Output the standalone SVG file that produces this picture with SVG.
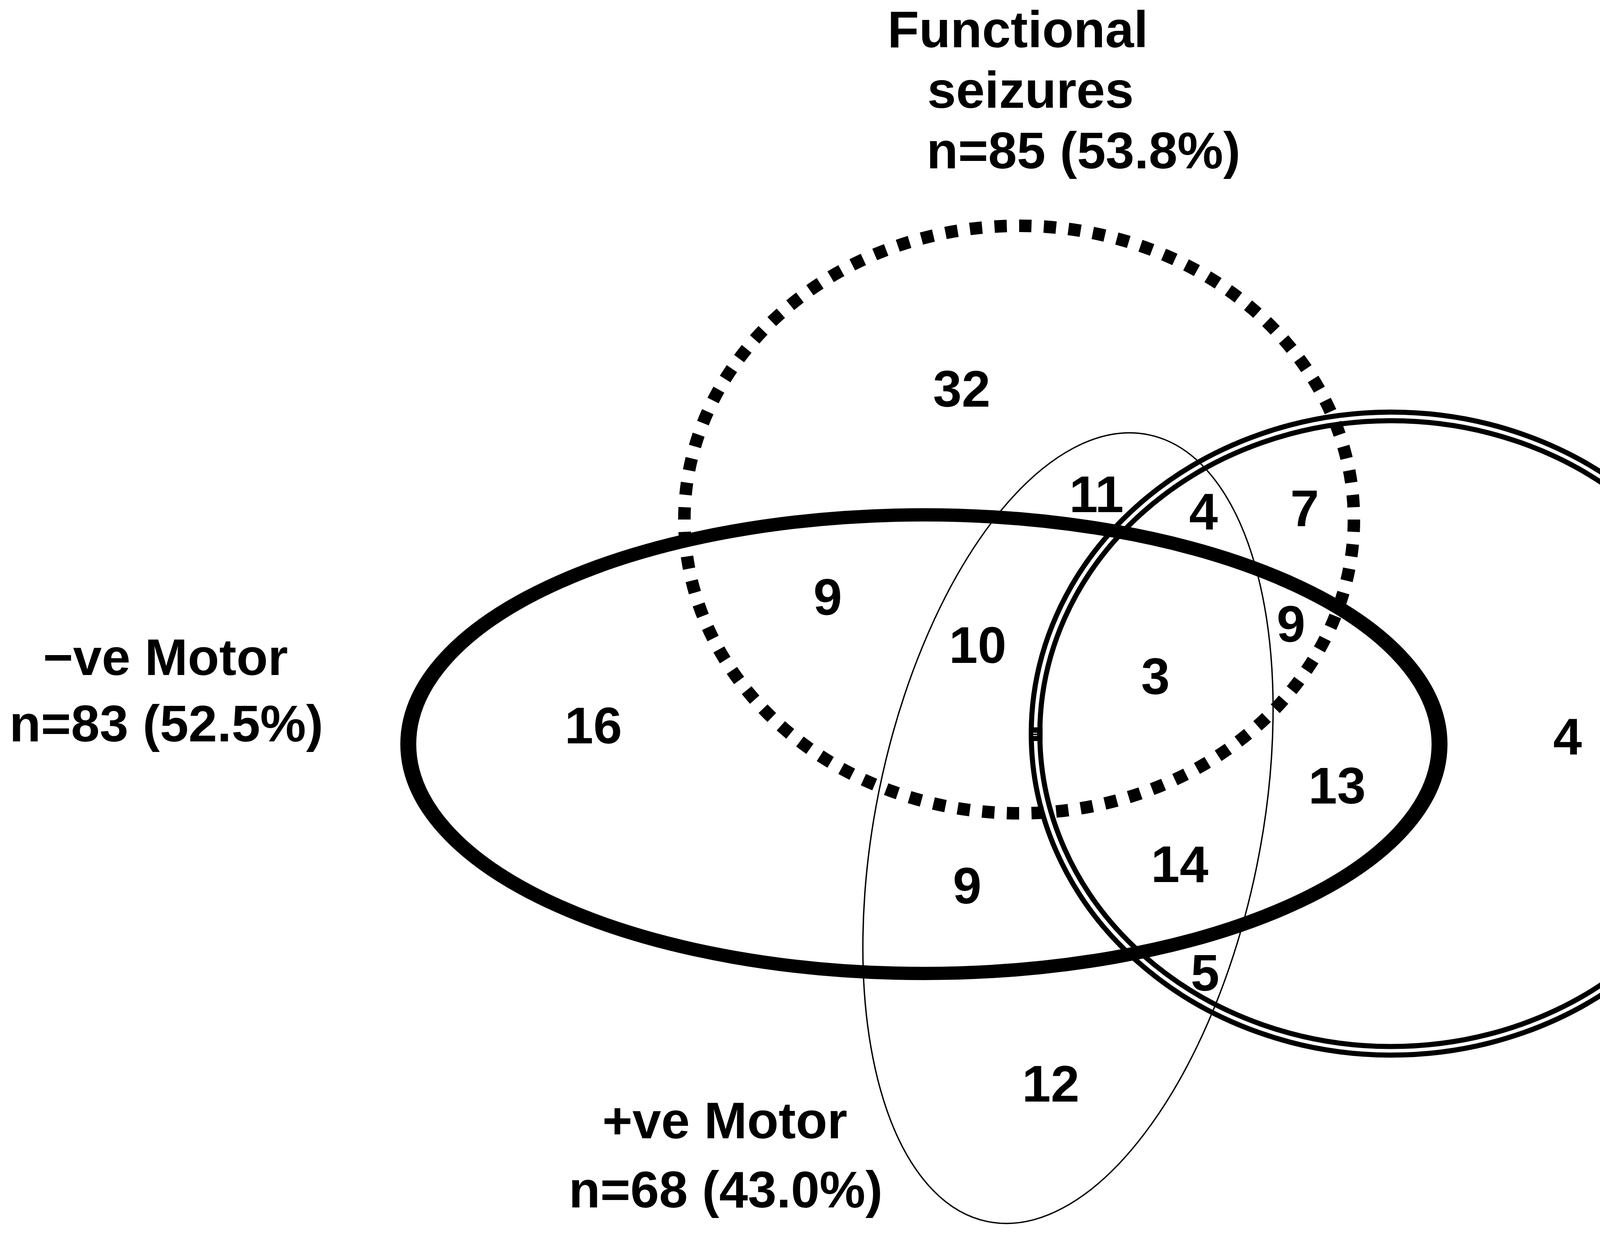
<svg xmlns="http://www.w3.org/2000/svg" width="5513" height="3159" viewBox="0 0 5513 3159">
<style>
.lbl{font-family:"Liberation Sans",Arial,sans-serif;font-weight:bold;font-size:132px;fill:#000}
.num{font-family:"Liberation Sans",Arial,sans-serif;font-weight:bold;font-size:132px;fill:#000;text-anchor:middle}
.dbl{fill:none;stroke:#000;stroke-width:13}
</style>
<rect width="5513" height="3159" fill="#fff"/>
<g id="node-sensory">
<ellipse class="dbl" cx="3562" cy="1878" rx="922" ry="823"/>
<ellipse class="dbl" cx="3562" cy="1878" rx="900" ry="801"/>
<rect x="2634" y="1862" width="35" height="35" fill="#000"/>
<rect x="2645" y="1876" width="10" height="2" fill="#fff"/>
<rect x="2645" y="1882" width="10" height="2" fill="#fff"/>
<text class="lbl" x="4824" y="1746">Sensory</text>
<text class="lbl" x="4684" y="1899">n=59 (37.3%)</text>
</g>
<g id="node-pos-motor">
<ellipse cx="2734" cy="2120" rx="493" ry="1028" transform="rotate(11.56 2734 2120)" fill="none" stroke="#000" stroke-width="3.5"/>
<text class="lbl" x="1542" y="2914">+ve Motor</text>
<text class="lbl" x="1456" y="3091">n=68 (43.0%)</text>
</g>
<g id="node-functional">
<ellipse cx="2609" cy="1330" rx="857" ry="752" pathLength="80" fill="none" stroke="#000" stroke-width="32" stroke-dasharray="0.5 0.5"/>
<text class="lbl" x="2272" y="121">Functional</text>
<text class="lbl" x="2374" y="276">seizures</text>
<text class="lbl" x="2372" y="431">n=85 (53.8%)</text>
</g>
<g id="node-neg-motor">
<ellipse cx="1971" cy="1905" rx="1100" ry="587" transform="scale(1.2 1)" fill="none" stroke="#000" stroke-width="34"/>
<text class="lbl" x="110" y="1728">−ve Motor</text>
<text class="lbl" x="24" y="1898">n=83 (52.5%)</text>
</g>
<g id="regions">
<text class="num" x="2462" y="1041">32</text>
<text class="num" x="2807" y="1311">11</text>
<text class="num" x="3081" y="1355">4</text>
<text class="num" x="3340" y="1347">7</text>
<text class="num" x="2119" y="1574">9</text>
<text class="num" x="2503" y="1697">10</text>
<text class="num" x="3305" y="1643">9</text>
<text class="num" x="2958" y="1777">3</text>
<text class="num" x="1519" y="1903">16</text>
<text class="num" x="4013" y="1931">4</text>
<text class="num" x="3423" y="2057">13</text>
<text class="num" x="3020" y="2258">14</text>
<text class="num" x="2476" y="2313">9</text>
<text class="num" x="3085" y="2536">5</text>
<text class="num" x="2690" y="2820">12</text>
</g>
</svg>
